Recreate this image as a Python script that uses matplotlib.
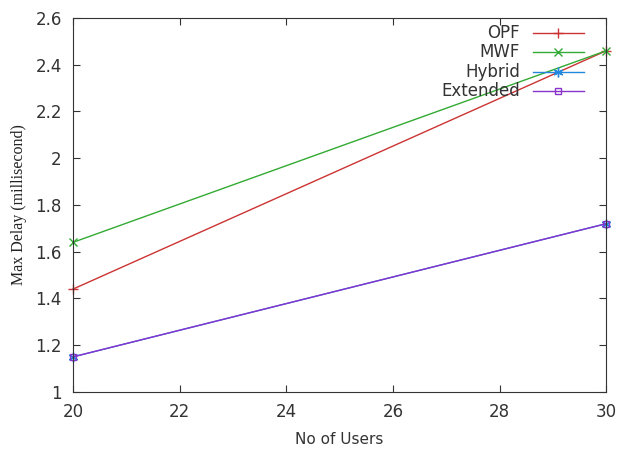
import matplotlib
matplotlib.use("Agg")
import matplotlib.pyplot as plt

users = [20, 30]
opf = [1.44, 2.46]
mwf = [1.64, 2.46]
hybrid = [1.15, 1.72]
extended = [1.15, 1.72]
xticks = [20, 22, 24, 26, 28, 30]
yticks = [1, 1.2, 1.4, 1.6, 1.8, 2, 2.2, 2.4, 2.6]

fig = plt.figure(figsize=(6.18, 4.5), dpi=100)
ax = fig.add_axes([0.118, 0.129, 0.863, 0.831])

series = [
    ("OPF", opf, "#cc3333", "+", 7),
    ("MWF", mwf, "#33aa33", "x", 6),
    ("Hybrid", hybrid, "#2288dd", (6, 2, 0), 7),
    ("Extended", extended, "#8833cc", "s", 5),
]
for name, vals, col, mk, ms in series:
    ax.plot(users, vals, color=col, marker=mk, markersize=ms, lw=1,
            markerfacecolor="none", markeredgecolor=col, label=name, clip_on=False)

ax.set_xlim(20, 30)
ax.set_ylim(1, 2.6)
ax.set_xticks(xticks)
ax.set_xticklabels([str(v) for v in xticks])
ax.set_yticks(yticks)
ax.set_yticklabels([f"{v:g}" for v in yticks])
ax.tick_params(direction="in", top=True, right=True, length=5, labelsize=12,
               colors="#333333", pad=8)
for s in ax.spines.values():
    s.set_color("#333333")
ax.set_xlabel("No of Users", fontsize=11, color="#333333", labelpad=8)
ax.set_ylabel("Max Delay (millisecond)", fontsize=11.5, family="Liberation Serif",
              color="#222222", labelpad=6)

# gnuplot-style key: right-aligned text, sample line on the right
rows_y = [0.960, 0.909, 0.856, 0.805]
for (name, vals, col, mk, ms), yy in zip(series, rows_y):
    ax.text(0.8386, yy, name, transform=ax.transAxes, ha="right", va="center",
            fontsize=12, color="#333333")
    ax.plot([0.863, 0.959], [yy, yy], transform=ax.transAxes, color=col, lw=1,
            clip_on=False)
    ax.plot([0.910], [yy], transform=ax.transAxes, color=col, marker=mk,
            markersize=ms, markerfacecolor="none", markeredgecolor=col,
            clip_on=False)

fig.savefig("out.png", dpi=100)
